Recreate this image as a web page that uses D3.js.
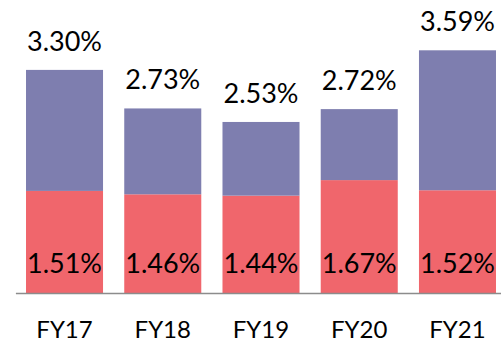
<!DOCTYPE html>
<html>
<head>
<meta charset="utf-8">
<script src="https://cdn.jsdelivr.net/npm/d3@7"></script>
<style>
  html, body { margin: 0; padding: 0; background: #fff; }
  svg { display: block; }
  text { font-family: Lato, "Open Sans", sans-serif; font-weight: 400; fill: #000; }
</style>
</head>
<body>
<svg id="chart" width="501" height="345"></svg>
<script>
// Fiscal years and rates (%)
const categories = ["FY17", "FY18", "FY19", "FY20", "FY21"];
const baseRates  = [1.51, 1.46, 1.44, 1.67, 1.52];   // lower (red) segment
const totalRates = [3.30, 2.73, 2.53, 2.72, 3.59];   // full bar height

const W = 501, H = 345;
const baseY = 293;

const svg = d3.select("#chart");

const x = d3.scaleBand()
  .domain(categories)
  .range([15.4, 506.6])
  .paddingInner(0.216)
  .paddingOuter(0.108);

const y = d3.scaleLinear()
  .domain([0, 4.334])
  .range([baseY, 0]);

const rows = categories.map((c, i) => ({
  cat: c,
  base: baseRates[i],
  upper: +(totalRates[i] - baseRates[i]).toFixed(2),
  total: totalRates[i]
}));

const stack = d3.stack().keys(["base", "upper"]);
const layers = stack(rows);
const colors = { base: "#F0666C", upper: "#7E7EAF" };

svg.append("g")
  .selectAll("g")
  .data(layers)
  .join("g")
  .attr("fill", d => colors[d.key])
  .selectAll("rect")
  .data(d => d)
  .join("rect")
  .attr("x", d => x(d.data.cat))
  .attr("width", x.bandwidth())
  .attr("y", d => y(d[1]))
  .attr("height", d => y(d[0]) - y(d[1]));

// baseline axis
const axis = d3.axisBottom(x).tickSize(0).tickPadding(0).tickFormat("");
const gAxis = svg.append("g").attr("transform", `translate(0,${baseY})`).call(axis);
gAxis.select(".domain").attr("stroke", "#8C8C8C").attr("stroke-width", 1.5);

const fmt = v => v.toFixed(2) + "%";
const fontSize = 27;

// category labels
svg.append("g")
  .selectAll("text")
  .data(categories)
  .join("text")
  .attr("x", d => x(d) + x.bandwidth() / 2)
  .attr("y", 338)
  .attr("text-anchor", "middle")
  .attr("font-size", 24)
  .text(d => d);

// totals above each bar
svg.append("g")
  .selectAll("text")
  .data(rows)
  .join("text")
  .attr("x", d => x(d.cat) + x.bandwidth() / 2)
  .attr("y", d => y(d.total) - 19)
  .attr("text-anchor", "middle")
  .attr("font-size", fontSize)
  .text(d => fmt(d.total));

// lower segment values
svg.append("g")
  .selectAll("text")
  .data(rows)
  .join("text")
  .attr("x", d => x(d.cat) + x.bandwidth() / 2)
  .attr("y", baseY - 20)
  .attr("text-anchor", "middle")
  .attr("font-size", fontSize)
  .text(d => fmt(d.base));
</script>
</body>
</html>
